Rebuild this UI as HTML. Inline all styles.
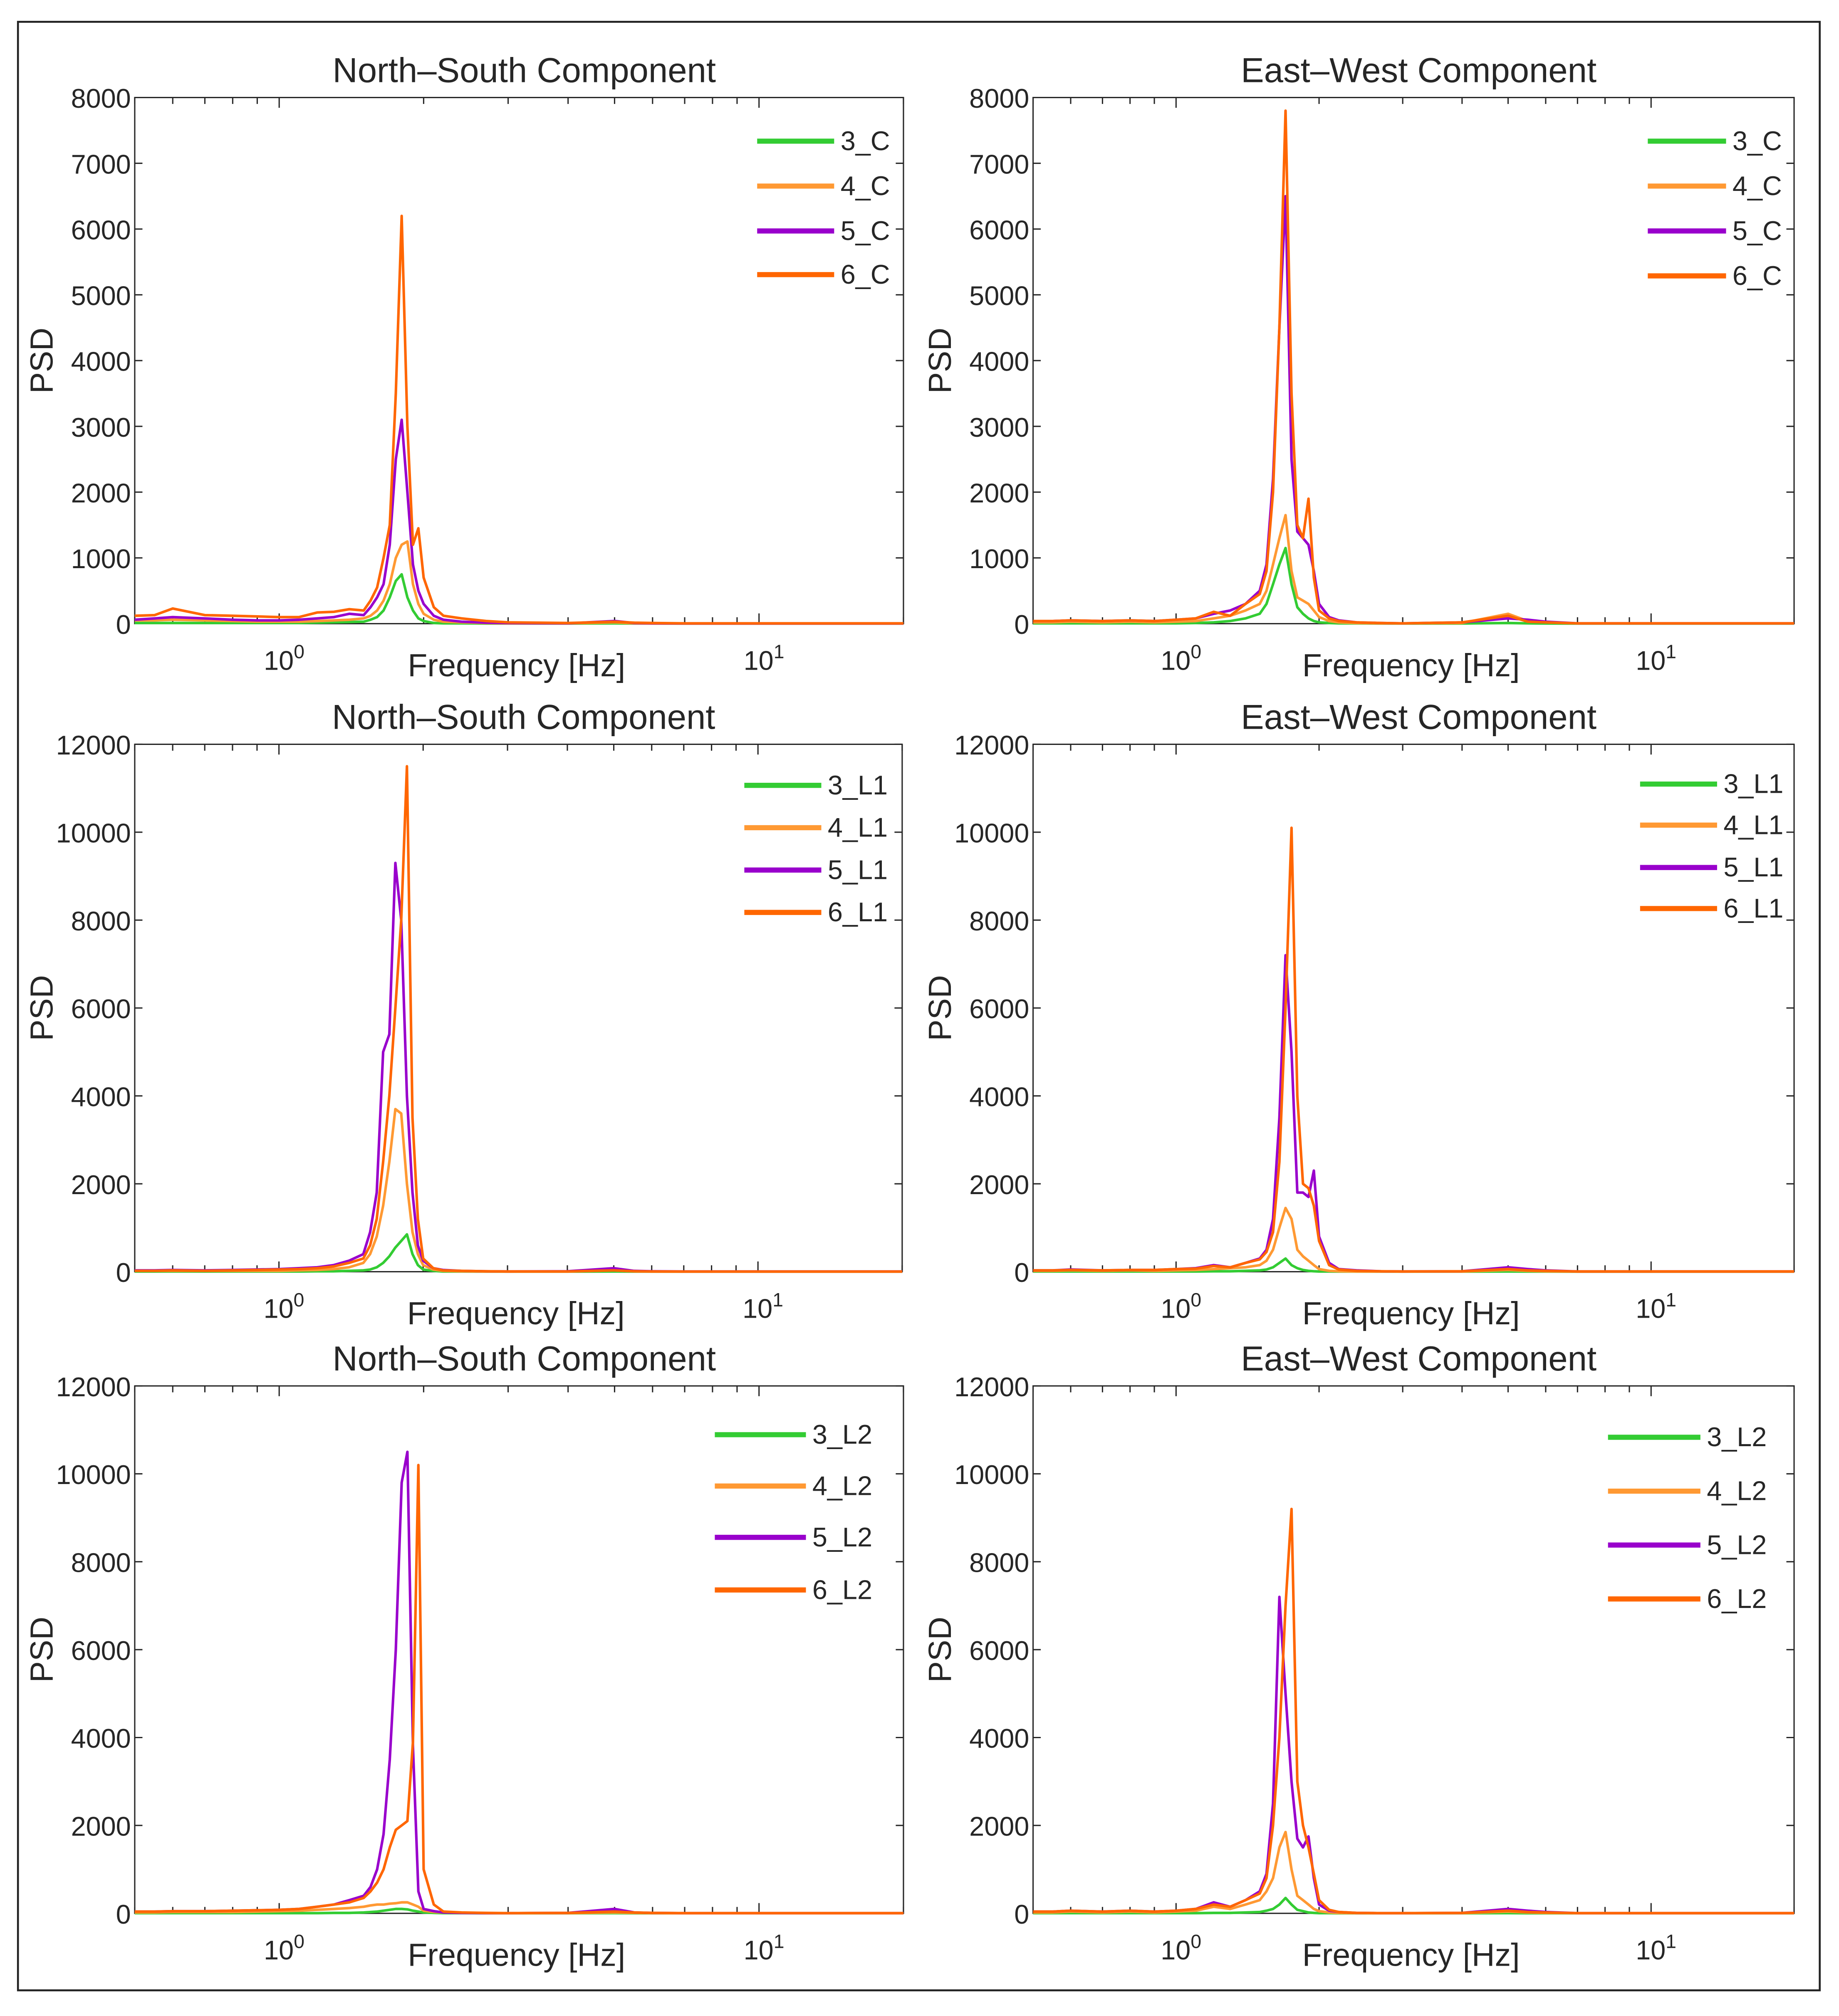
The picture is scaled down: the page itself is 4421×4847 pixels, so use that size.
<!DOCTYPE html>
<html><head><meta charset="utf-8">
<style>
html,body{margin:0;padding:0;background:#fff;}
svg{display:block;}
text{font-family:"Liberation Sans",Arial,sans-serif;fill:#262626;}
</style></head>
<body>
<svg id="fig" width="4421" height="4847" viewBox="0 0 1433 1571" preserveAspectRatio="none" xmlns="http://www.w3.org/2000/svg">
<rect x="14" y="17" width="1404" height="1534" fill="#fff" stroke="#222" stroke-width="1.5"/>
</svg>
<script>
// shared frequency grid (Hz)
const freqs=[0.5,0.55,0.6,0.7,0.8,0.9,1.0,1.1,1.2,1.3,1.4,1.5,1.55,1.6,1.65,1.7,1.75,1.8,1.85,1.9,1.95,2.0,2.1,2.2,2.4,2.7,3,4,5,5.5,6,7,10,20];
const seriesColors=["#33cc33","#ff9933","#9900cc","#ff6600"];
const xTickValues=[1,10];
const yTicksSmall=[0,1000,2000,3000,4000,5000,6000,7000,8000];
const yTicksLarge=[0,2000,4000,6000,8000,10000,12000];
// panel 1: North-South C
const nsC_3=[10,10,10,10,10,10,10,10,15,20,25,30,60,100,200,400,650,750,400,200,80,40,10,5,5,3,3,3,5,3,3,2,2,2];
const nsC_4=[50,50,60,50,40,30,30,30,40,50,60,80,120,200,350,600,1000,1200,1250,600,300,150,60,30,20,10,5,5,20,5,3,2,2,2];
const nsC_5=[60,80,100,80,60,50,50,60,80,100,150,130,250,400,600,1200,2500,3100,2000,900,500,300,120,60,30,15,10,5,40,10,5,3,3,3];
const nsC_6=[120,130,230,130,120,110,100,100,170,180,220,200,350,550,1000,1500,3500,6200,3000,1200,1450,700,250,120,80,40,20,10,30,15,10,5,5,5];
// panel 2: East-West C
const ewC_3=[5,5,5,5,5,5,5,10,20,40,80,150,300,600,900,1150,600,250,150,80,40,20,10,5,5,3,3,3,10,5,3,2,2,2];
const ewC_4=[20,20,30,20,30,20,30,40,80,120,200,300,500,900,1300,1650,800,400,350,300,200,100,40,20,10,5,5,10,150,40,20,5,5,5];
const ewC_5=[40,40,50,40,50,40,60,80,150,200,300,500,900,2200,4500,6500,2500,1400,1300,1200,800,300,100,50,20,10,5,20,80,60,30,5,5,5];
const ewC_6=[40,40,50,40,50,40,60,80,180,120,300,450,800,2000,4500,7800,3500,1500,1300,1900,700,200,80,40,20,10,5,20,120,30,20,5,5,5];
// panel 3: North-South L1
const nsL1_3=[5,5,5,5,5,5,5,5,10,10,20,30,50,100,200,350,550,700,850,400,150,50,20,5,5,3,3,3,5,3,3,2,2,2];
const nsL1_4=[20,20,20,20,20,20,20,30,40,60,100,200,400,800,1500,2500,3700,3600,2000,900,400,150,50,20,10,5,5,5,30,10,5,3,3,3];
const nsL1_5=[30,30,40,30,40,50,60,80,100,150,250,400,900,1800,5000,5400,9300,8000,4000,1800,600,250,80,40,20,10,5,10,80,20,10,5,5,5];
const nsL1_6=[20,20,30,20,30,40,50,60,80,120,200,300,600,1200,2500,4000,6000,8000,11500,3500,1200,300,80,30,20,10,5,5,30,10,5,3,3,3];
// panel 4: East-West L1
const ewL1_3=[5,5,5,5,5,5,5,5,10,10,20,30,50,100,200,300,150,80,40,20,10,5,5,3,3,3,3,3,5,3,3,2,2,2];
const ewL1_4=[20,20,30,20,30,20,30,40,60,80,100,150,250,500,1000,1450,1200,500,350,250,150,60,20,10,5,5,5,5,40,20,10,5,5,5];
const ewL1_5=[30,30,50,30,40,40,60,80,150,100,200,300,500,1200,3500,7200,5000,1800,1800,1700,2300,800,200,60,30,10,5,10,100,60,30,5,5,5];
const ewL1_6=[30,30,40,30,40,40,60,70,130,100,200,280,450,900,2500,6000,10100,4000,2000,1900,1500,700,150,50,20,10,5,10,60,30,20,5,5,5];
// panel 5: North-South L2
const nsL2_3=[5,5,5,5,5,5,5,5,5,10,10,20,30,40,60,80,100,100,90,60,40,20,10,5,5,3,3,3,5,3,3,2,2,2];
const nsL2_4=[20,20,30,30,30,40,50,60,80,100,120,150,180,200,200,220,230,250,250,200,150,60,30,20,10,5,5,5,20,10,5,3,3,3];
const nsL2_5=[40,40,50,50,60,70,80,100,150,200,300,400,600,1000,1800,3500,6000,9800,10500,3800,500,100,50,20,10,5,5,10,100,20,10,5,5,5];
const nsL2_6=[40,40,50,50,60,70,80,100,150,200,250,350,500,700,1000,1500,1900,2000,2100,3900,10200,1000,200,40,20,10,5,10,40,20,10,5,5,5];
// panel 6: East-West L2
const ewL2_3=[5,5,5,5,5,5,5,5,10,10,20,30,60,100,200,350,200,80,50,20,10,5,5,3,3,3,3,3,5,3,3,2,2,2];
const ewL2_4=[20,20,40,20,40,20,40,60,150,100,200,300,500,800,1500,1850,1000,400,300,200,100,50,20,10,5,5,5,5,40,20,10,5,5,5];
const ewL2_5=[40,40,60,40,60,40,60,100,250,150,300,500,900,2500,7200,5000,3000,1700,1500,1750,800,200,60,30,10,5,5,10,100,60,30,5,5,5];
const ewL2_6=[40,40,60,40,60,40,60,100,200,150,300,450,800,2000,4000,7000,9200,3000,2000,1500,900,300,80,30,10,5,5,10,60,30,20,5,5,5];

const panels=[
 {title:"North\u2013South Component",x:105,y:76,w:599,h:410,ymax:8000,yt:yTicksSmall,names:["3_C","4_C","5_C","6_C"],data:[nsC_3,nsC_4,nsC_5,nsC_6],lx:590,lw:60,ly:[110,145,180,214]},
 {title:"East\u2013West Component",x:805,y:76,w:593,h:410,ymax:8000,yt:yTicksSmall,names:["3_C","4_C","5_C","6_C"],data:[ewC_3,ewC_4,ewC_5,ewC_6],lx:1284,lw:61,ly:[110,145,180,215]},
 {title:"North\u2013South Component",x:105,y:580,w:598,h:411,ymax:12000,yt:yTicksLarge,names:["3_L1","4_L1","5_L1","6_L1"],data:[nsL1_3,nsL1_4,nsL1_5,nsL1_6],lx:580,lw:60,ly:[612,645,678,711]},
 {title:"East\u2013West Component",x:805,y:580,w:593,h:411,ymax:12000,yt:yTicksLarge,names:["3_L1","4_L1","5_L1","6_L1"],data:[ewL1_3,ewL1_4,ewL1_5,ewL1_6],lx:1278,lw:60,ly:[611,643,676,708]},
 {title:"North\u2013South Component",x:105,y:1080,w:599,h:411,ymax:12000,yt:yTicksLarge,names:["3_L2","4_L2","5_L2","6_L2"],data:[nsL2_3,nsL2_4,nsL2_5,nsL2_6],lx:557,lw:71,ly:[1118,1158,1198,1239]},
 {title:"East\u2013West Component",x:805,y:1080,w:593,h:411,ymax:12000,yt:yTicksLarge,names:["3_L2","4_L2","5_L2","6_L2"],data:[ewL2_3,ewL2_4,ewL2_5,ewL2_6],lx:1253,lw:72,ly:[1120,1162,1204,1246]}
];
const NS="http://www.w3.org/2000/svg";
const svg=document.getElementById('fig');
function mk(tag,attrs,parent){const e=document.createElementNS(NS,tag);for(const k in attrs)e.setAttribute(k,attrs[k]);(parent||svg).appendChild(e);return e;}
const LMIN=Math.log10(0.5),LMAX=Math.log10(20);
panels.forEach((p,pi)=>{
  const g=mk('g',{});
  
  
  const xs=f=>p.x+(Math.log10(f)-LMIN)/(LMAX-LMIN)*p.w;
  const ys=v=>p.y+p.h-v/p.ymax*p.h;
  const box=mk('rect',{x:p.x,y:p.y,width:p.w,height:p.h,fill:'#fff',stroke:'#262626','stroke-width':1},g);
  
  
  p.yt.forEach(v=>{
    const y=ys(v);
    mk('line',{x1:p.x,x2:p.x+6,y1:y,y2:y,stroke:'#262626','stroke-width':1},g);
    mk('line',{x1:p.x+p.w,x2:p.x+p.w-6,y1:y,y2:y,stroke:'#262626','stroke-width':1},g);
    const t=mk('text',{x:p.x-3,y:y+8,'text-anchor':'end','font-size':21},g);
    t.textContent=v;
    
    
  });
  for(let d=-1;d<=1;d++){for(let m=1;m<10;m++){const f=m*Math.pow(10,d);if(f<0.5||f>20)continue;const x=xs(f);const L=(m===1)?8:5;
    mk('line',{x1:x,x2:x,y1:p.y+p.h,y2:p.y+p.h-L,stroke:'#262626','stroke-width':1},g);
    mk('line',{x1:x,x2:x,y1:p.y,y2:p.y+L,stroke:'#262626','stroke-width':1},g);}}
  xTickValues.forEach(f=>{
    const x=xs(f);const t=mk('text',{x:x-12,y:p.y+p.h+36,'font-size':21},g);
    
    
    t.textContent='10';
    const s=mk('tspan',{dy:-9,'font-size':15},t);s.textContent=String(Math.round(Math.log10(f)));
  });
  p.data.forEach((arr,si)=>{
    const pts=arr.map((v,i)=>xs(freqs[i]).toFixed(2)+','+ys(v).toFixed(2)).join(' ');
    const pl=mk('polyline',{points:pts,fill:'none',stroke:seriesColors[si],'stroke-width':2,'stroke-linejoin':'round'},g);
    
    
  });
  p.names.forEach((n,si)=>{
    const y=p.ly[si];
    const ln=mk('line',{x1:p.lx,x2:p.lx+p.lw,y1:y,y2:y,stroke:seriesColors[si],'stroke-width':4},g);
    
    
    const t=mk('text',{x:p.lx+p.lw+5,y:y+7,'font-size':21},g);
    t.textContent=n;
    
    
  });
  const tt=mk('text',{x:p.x+p.w/2+4,y:p.y-12,'text-anchor':'middle','font-size':27},g);
  tt.textContent=p.title;
  
  
  const xl=mk('text',{x:p.x+p.w/2-2,y:p.y+p.h+41,'text-anchor':'middle','font-size':25},g);
  xl.textContent='Frequency [Hz]';
  
  
  const yx=(pi%2===0)?41:741, yc=p.y+p.h/2;
  const yl=mk('text',{x:yx,y:yc,'text-anchor':'middle','font-size':25,transform:'rotate(-90 '+yx+' '+yc+')'},g);
  yl.textContent='PSD';
  
  
});
</script>
</body></html>
